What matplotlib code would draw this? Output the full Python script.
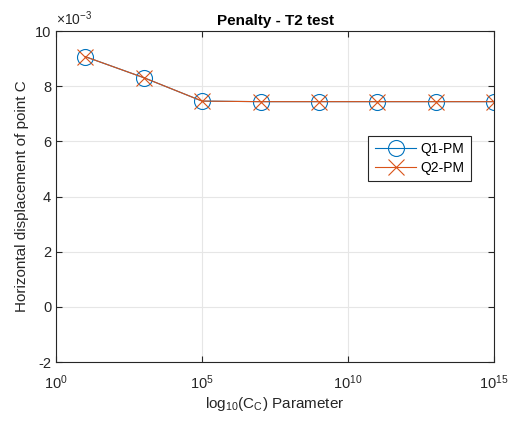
import matplotlib
matplotlib.use("Agg")
import matplotlib.pyplot as plt
from matplotlib.ticker import ScalarFormatter, NullLocator, FixedLocator

plt.rcParams["font.family"] = ["Liberation Sans", "DejaVu Sans"]
plt.rcParams["mathtext.fontset"] = "custom"
plt.rcParams["mathtext.rm"] = "Liberation Sans"
plt.rcParams["mathtext.it"] = "Liberation Sans"
plt.rcParams["axes.unicode_minus"] = False

# penalty parameter values and horizontal displacement of point C
cc = [1e1, 1e3, 1e5, 1e7, 1e9, 1e11, 1e13, 1e15]
q1_pm = [9.07e-3, 8.31e-3, 7.46e-3, 7.44e-3, 7.44e-3, 7.44e-3, 7.44e-3, 7.44e-3]
q2_pm = [9.07e-3, 8.31e-3, 7.46e-3, 7.44e-3, 7.44e-3, 7.44e-3, 7.44e-3, 7.44e-3]
xticks = [1e0, 1e5, 1e10, 1e15]
yticks = [-2e-3, 0, 2e-3, 4e-3, 6e-3, 8e-3, 10e-3]

fig = plt.figure(figsize=(5.1, 4.25), dpi=100)
ax = fig.add_axes([0.11, 0.148, 0.859, 0.779])

ax.plot(cc, q1_pm, color="#0072BD", lw=0.8, marker="o", ms=11.5,
        mfc="none", mew=0.8, label="Q1-PM")
ax.plot(cc, q2_pm, color="#D95319", lw=0.8, marker="x", ms=11.5,
        mew=0.8, label="Q2-PM")

ax.set_xscale("log")
ax.set_xlim(1e0, 1e15)
ax.set_ylim(-2e-3, 10e-3)
ax.xaxis.set_major_locator(FixedLocator(xticks))
ax.xaxis.set_minor_locator(NullLocator())
ax.set_yticks(yticks)

fmt = ScalarFormatter(useMathText=False)
fmt.set_powerlimits((-3, -3))
ax.yaxis.set_major_formatter(fmt)
ax.yaxis.get_offset_text().set_visible(False)
ax.text(0.0, 1.01, r"$\times10^{-3}$", transform=ax.transAxes, fontsize=10,
        color="#262626", va="bottom", ha="left")

ax.grid(True, color="#e6e6e6", lw=0.8)
ax.set_axisbelow(True)
for s in ax.spines.values():
    s.set_color("#262626")
    s.set_linewidth(0.8)
ax.tick_params(direction="in", top=True, right=True, labelsize=10.5,
               colors="#262626", length=4, width=0.8)
ax.tick_params(axis="x", pad=8)

ax.set_title("Penalty - T2 test", fontsize=11, fontweight="bold", pad=4)
ax.set_xlabel("log$_{10}$(C$_C$) Parameter", fontsize=11, color="#262626",
              labelpad=2)
ax.set_ylabel("Horizontal displacement of point C", fontsize=11, color="#262626")

leg = ax.legend(loc="upper left", bbox_to_anchor=(0.713, 0.683), fontsize=10,
                fancybox=False, edgecolor="#262626", framealpha=1,
                handlelength=3.0, borderpad=0.45, labelspacing=0.35,
                handletextpad=0.3, borderaxespad=0)
leg.get_frame().set_linewidth(0.8)

fig.savefig("out.png", dpi=100)
